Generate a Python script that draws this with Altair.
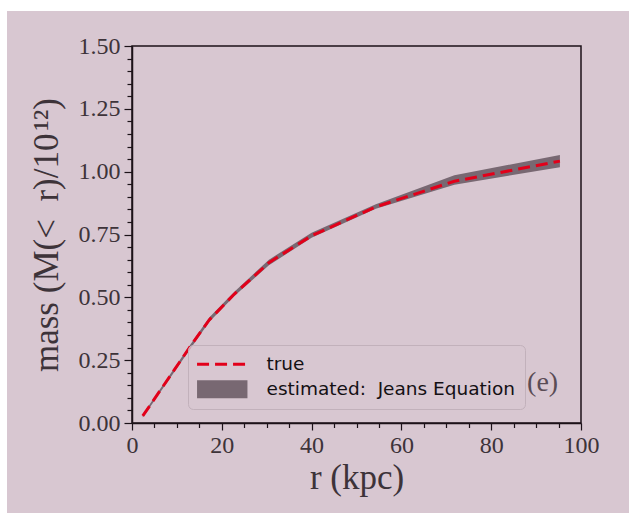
import altair as alt
import pandas as pd

# ---- data ----
r_kpc = [2.4, 13.0, 17.2, 22.8, 30.5, 40.0, 54.3, 71.8, 95.3]
mass_true = [0.028, 0.305, 0.410, 0.513, 0.638, 0.745, 0.860, 0.962, 1.042]
mass_lower = [0.022, 0.295, 0.402, 0.505, 0.628, 0.737, 0.852, 0.948, 1.018]
mass_upper = [0.034, 0.312, 0.420, 0.522, 0.650, 0.757, 0.870, 0.986, 1.066]

x_major = [0, 20, 40, 60, 80, 100]
x_minor = [v for v in range(0, 101, 5) if v % 20 != 0]
y_major = [0.0, 0.25, 0.5, 0.75, 1.0, 1.25, 1.5]
y_minor = [round(i * 0.05, 2) for i in range(31) if i % 5 != 0]

lab_true = "true"
lab_est = "estimated:\u00a0 Jeans Equation"
annot_x = [88.0]
annot_y = [0.159]
annot_text = ["(e)"]
y_title = "mass (M(<\u2002r)/10\u200a¹²)"
x_title = "r (kpc)"

# ---- styles ----
BG = "#d8c7d1"
RED = "#e2001a"
BAND = "#786872"
DARK = "#1c1218"
TXT = "#3d3339"
W, H = 449, 377
PAD = {"left": 132, "top": 46, "right": 48, "bottom": 90}

df = pd.DataFrame({
    "r": r_kpc, "true": mass_true, "lo": mass_lower, "hi": mass_upper,
})
df_band = df.assign(series=lab_est)
df_line = df.assign(series=lab_true)
df_annot = pd.DataFrame({"ax": annot_x, "ay": annot_y, "t": annot_text})

xs = alt.Scale(domain=[0, 100], nice=False, zero=False, padding=0)
ys = alt.Scale(domain=[0, 1.5], nice=False, zero=False, padding=0)
cs = alt.Scale(domain=[lab_true, lab_est], range=[RED, BAND])

legend = alt.Legend(
    title=None, orient="none", legendX=56, legendY=299, direction="vertical",
    fillColor="rgba(216,199,209,0.8)", strokeColor="#c2b1bb", cornerRadius=5,
    padding=10, labelFont="DejaVu Sans", labelFontSize=18.5, labelColor="#141014",
    labelLimit=500, labelOffset=35, symbolOffset=15, rowPadding=6, symbolSize=576,
    symbolType={"expr": "datum.value === 'true' ? 'M-2.1,0H2.1' : 'M-2.1,-0.75H2.1V0.75H-2.1Z'"},
    symbolStrokeWidth={"expr": "datum.value === 'true' ? 3 : 0"},
    symbolDash=[12, 6],
    symbolOpacity=1,
)

axis_common = dict(zindex=1, grid=False, domainColor=DARK, domainWidth=1.5,
                   tickColor=DARK, tickWidth=1.2)
axis_nodomain = {k: v for k, v in axis_common.items() if not k.startswith("domain")}

x_main = alt.Axis(orient="bottom", values=x_major, format="d", tickSize=7,
                  labelFont="Liberation Serif", labelFontSize=24, labelColor=TXT,
                  labelPadding=3, labelFlush=False, title=x_title,
                  titleFont="Liberation Serif", titleFontSize=35,
                  titleFontWeight="normal", titleColor=TXT, titlePadding=3,
                  **axis_common)
y_main = alt.Axis(orient="left", values=y_major, format=".2f", tickSize=8,
                  labelFont="Liberation Serif", labelFontSize=24, labelColor=TXT,
                  labelPadding=4, labelFlush=False, title=y_title,
                  titleFont="Liberation Serif", titleFontSize=35,
                  titleFontWeight="normal", titleColor=TXT, titlePadding=14,
                  **axis_common)
x_min = alt.Axis(orient="bottom", values=x_minor, tickSize=4.5, labels=False,
                 domain=False, title=None, **axis_nodomain)
y_min = alt.Axis(orient="left", values=y_minor, tickSize=5, labels=False,
                 domain=False, title=None, **axis_nodomain)

bg = alt.Chart(pd.DataFrame({"k": [0]})).mark_rect(color=BG).encode(
    x=alt.value(-125), x2=alt.value(W + PAD["right"]),
    y=alt.value(-35), y2=alt.value(H + PAD["bottom"]),
)

band = alt.Chart(df_band).mark_area(opacity=1).encode(
    x=alt.X("r:Q", scale=xs, axis=x_main),
    y=alt.Y("lo:Q", scale=ys, axis=y_main),
    y2="hi:Q",
    color=alt.Color("series:N", scale=cs, legend=legend),
)

line = alt.Chart(df_line).mark_line(strokeWidth=3, strokeDash=[12, 6]).encode(
    x=alt.X("r:Q", scale=xs, axis=x_min),
    y=alt.Y("true:Q", scale=ys, axis=y_min),
    color=alt.Color("series:N", scale=cs, legend=legend),
)

annot = alt.Chart(df_annot).mark_text(
    align="left", baseline="middle", font="Liberation Serif", fontSize=28, color="#5a4c55"
).encode(
    x=alt.X("ax:Q", scale=xs, axis=None),
    y=alt.Y("ay:Q", scale=ys, axis=None),
    text="t:N",
)

frame = alt.Chart(pd.DataFrame({"k": [0]})).mark_rect(
    fillOpacity=0, stroke=DARK, strokeWidth=1.5
).encode(
    x=alt.value(0), x2=alt.value(W), y=alt.value(0), y2=alt.value(H),
)

chart = alt.layer(bg, band, line, annot, frame).resolve_axis(
    x="independent", y="independent"
).properties(
    width=W, height=H, padding=PAD,
    autosize=alt.AutoSizeParams(type="none"),
).configure(background="#ffffff").configure_view(stroke=None)

chart.save("out.html", embed_options={"renderer": "svg", "actions": False})
